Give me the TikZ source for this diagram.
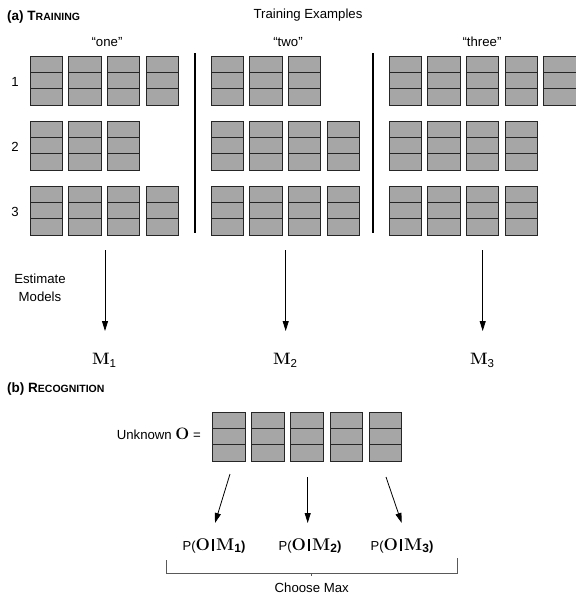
\documentclass[tikz,border=0pt]{standalone}
\usepackage{fontspec}
\setmainfont{Liberation Sans}
\newfontfamily\lmr{Latin Modern Roman}
\usetikzlibrary{arrows.meta}
\definecolor{blockgray}{RGB}{166,166,166}
\newcommand\hd[2]{{\bfseries\fontsize{13.5}{16}\selectfont #1\fontsize{10.5}{12}\selectfont #2}}
\newcommand\bM[1]{{\lmr\bfseries\fontsize{16.5}{18}\selectfont M}\raisebox{-3pt}{\fontsize{11.5}{12}\selectfont #1}}
\newcommand\PO[1]{{\fontsize{13}{15}\selectfont P(}{\lmr\bfseries\fontsize{17}{19}\selectfont O}\hspace{2.2pt}\rule[-0.5pt]{1.8pt}{12.5pt}\hspace{2.2pt}{\lmr\bfseries\fontsize{17}{19}\selectfont M}\raisebox{-2pt}{\bfseries\fontsize{12}{14}\selectfont #1}{\bfseries\fontsize{13}{15}\selectfont )}}
\tikzset{
  blk/.style={draw=black!85, fill=blockgray, line width=1pt, minimum width=32.5pt,
    minimum height=49pt, inner sep=0pt, outer sep=0pt, anchor=north west,
    path picture={\draw[black!85,line width=1pt]
      ([yshift=-16.33pt]path picture bounding box.north west) -- ([yshift=-16.33pt]path picture bounding box.north east)
      ([yshift=16.33pt]path picture bounding box.south west) -- ([yshift=16.33pt]path picture bounding box.south east);}},
  lbl/.style={font=\fontsize{13.2}{15}\selectfont, inner sep=0pt},
  arr/.style={-{Triangle[length=10pt,width=6pt]}, line width=0.8pt},
  sepline/.style={line width=2pt},
  brk/.style={line width=0.9pt, draw=black!65},
}
\begin{document}
\begin{tikzpicture}[x=1pt,y=-1pt]
\clip (0,0) rectangle (576,598);
\fill[white] (0,0) rectangle (576,598);

% headings
\node[anchor=west, inner sep=0pt] (hA) at (7,17) {\hd{(a) T}{RAINING}};
\node[lbl] (te) at (308,15) {Training Examples};
\node[lbl] (qone) at (107,42) {“one”};
\node[lbl] (qtwo) at (288,42) {“two”};
\node[lbl] (qthree) at (482,42) {“three”};

% row labels
\node[lbl] (r1) at (15,81.7) {1};
\node[lbl] (r2) at (15,146.7) {2};
\node[lbl] (r3) at (15,211.7) {3};

% training blocks
\foreach \c/\xo/\a/\b/\d in {one/30/4/3/4, two/211/3/4/4, three/389/5/4/4}{
  \foreach \i in {1,...,\a} \node[blk] (\c-1-\i) at ({\xo+(\i-1)*38.7},56) {};
  \foreach \i in {1,...,\b} \node[blk] (\c-2-\i) at ({\xo+(\i-1)*38.7},121) {};
  \foreach \i in {1,...,\d} \node[blk] (\c-3-\i) at ({\xo+(\i-1)*38.7},186) {};
}

% separators
\coordinate (s1t) at (195,53); \coordinate (s1b) at (195,233);
\coordinate (s2t) at (373,53); \coordinate (s2b) at (373,233);
\draw[sepline] (s1t) -- (s1b);
\draw[sepline] (s2t) -- (s2b);

% estimate models
\node[lbl, align=center, font=\fontsize{13.2}{18}\selectfont] (est) at (40,288) {Estimate\\Models};

\coordinate (a1s) at (105,250); \coordinate (a1e) at (105,331);
\coordinate (a2s) at (285.7,250); \coordinate (a2e) at (285.7,331);
\coordinate (a3s) at (482.7,250); \coordinate (a3e) at (482.7,331);
\draw[arr] (a1s) -- (a1e);
\draw[arr] (a2s) -- (a2e);
\draw[arr] (a3s) -- (a3e);

\node[inner sep=0pt] (M1) at (104,360) {\bM{1}};
\node[inner sep=0pt] (M2) at (285,360) {\bM{2}};
\node[inner sep=0pt] (M3) at (482,360) {\bM{3}};

% recognition
\node[anchor=west, inner sep=0pt] (hB) at (7,389) {\hd{(b) R}{ECOGNITION}};
\node[lbl, anchor=east] (unk) at (201,434) {Unknown {\lmr\bfseries\fontsize{16.5}{18}\selectfont O} =};
\foreach \i in {1,...,5} \node[blk] (o-\i) at ({212.5+(\i-1)*39.2},412) {};

\coordinate (b1s) at (230,474); \coordinate (b1e) at (215,523);
\coordinate (b2s) at (307.7,477); \coordinate (b2e) at (307.7,523);
\coordinate (b3s) at (386,477); \coordinate (b3e) at (401.7,523);
\draw[arr] (b1s) -- (b1e);
\draw[arr] (b2s) -- (b2e);
\draw[arr] (b3s) -- (b3e);

\node[inner sep=0pt] (P1) at (214,546) {\PO{1}};
\node[inner sep=0pt] (P2) at (310,546) {\PO{2}};
\node[inner sep=0pt] (P3) at (402,546) {\PO{3}};

% bracket
\coordinate (bl) at (166,560); \coordinate (blb) at (166,573);
\coordinate (brb) at (457,573); \coordinate (br) at (457,558);
\coordinate (bm) at (311.7,573); \coordinate (bmt) at (311.7,576);
\draw[brk] (bl) -- (blb) -- (brb) -- (br);
\draw[brk] (bm) -- (bmt);
\node[lbl] (cm) at (311.7,588) {Choose Max};
\end{tikzpicture}
\end{document}
